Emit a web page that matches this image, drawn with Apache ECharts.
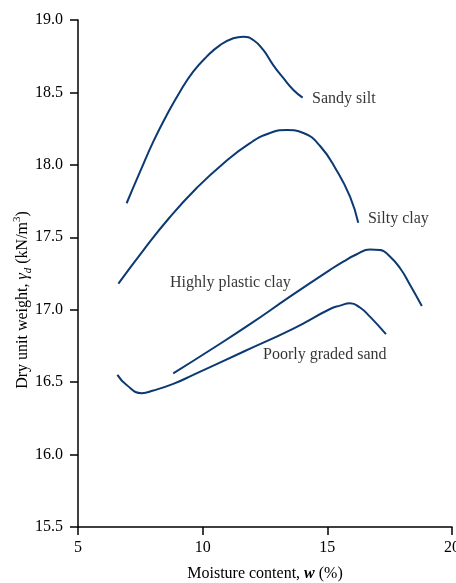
<!DOCTYPE html>
<html>
<head>
<meta charset="utf-8">
<style>html,body{margin:0;padding:0;background:#fff}#c{width:456px;height:583px}</style>
<script src="https://cdn.jsdelivr.net/npm/echarts@6/dist/echarts.min.js"></script>
</head>
<body>
<div id="c"></div>
<script>
// Moisture content (%) vs dry unit weight (kN/m3)
var sandySiltW = [6.95, 7.49, 8.02, 8.56, 9.09, 9.62, 10.16, 10.70, 11.23, 11.63, 12.03, 12.43, 12.83, 13.24, 13.64, 14.01];
var sandySiltG = [17.735, 17.953, 18.160, 18.344, 18.505, 18.643, 18.747, 18.827, 18.874, 18.885, 18.862, 18.793, 18.689, 18.598, 18.517, 18.464];

var siltyClayW = [6.62, 7.62, 8.69, 9.76, 10.83, 11.90, 12.70, 13.37, 14.04, 14.71, 15.38, 15.91, 16.24];
var siltyClayG = [17.18, 17.41, 17.64, 17.84, 18.01, 18.15, 18.22, 18.24, 18.22, 18.13, 17.96, 17.78, 17.60];

var hpClayW = [8.82, 10.29, 11.90, 13.50, 15.11, 15.64, 16.18, 16.71, 17.11, 17.51, 17.92, 18.32, 18.79];
var hpClayG = [16.56, 16.72, 16.90, 17.09, 17.275, 17.332, 17.383, 17.415, 17.413, 17.367, 17.286, 17.171, 17.026];

var pgSandW = [6.58, 6.95, 7.56, 8.02, 8.82, 9.62, 11.63, 13.64, 15.11, 15.51, 15.91, 16.31, 16.71, 17.35];
var pgSandG = [16.55, 16.48, 16.424, 16.442, 16.488, 16.55, 16.71, 16.87, 17.005, 17.028, 17.045, 17.015, 16.952, 16.831];

var seriesNames = ['Sandy silt', 'Silty clay', 'Highly plastic clay', 'Poorly graded sand'];
var xTicks = [5, 10, 15, 20];
var yTicks = [15.5, 16.0, 16.5, 17.0, 17.5, 18.0, 18.5, 19.0];

function pairs(xs, ys) { return xs.map(function (x, i) { return [x, ys[i]]; }); }

var FONT = '"Liberation Serif", "DejaVu Serif", serif';
var LINE = '#0b3a73';
var TXT = '#000';
var chart = echarts.init(document.getElementById('c'), null, {renderer: 'canvas'});

var curves = [pairs(sandySiltW, sandySiltG), pairs(siltyClayW, siltyClayG), pairs(hpClayW, hpClayG), pairs(pgSandW, pgSandG)];
var series = curves.map(function (d, i) {
  return {
    type: 'line', name: seriesNames[i], data: d, smooth: 0.5, showSymbol: false, silent: true,
    lineStyle: {color: LINE, width: 2}, z: 3
  };
});
// text labels placed in data coordinates
var labelAnchors = [[14.39, 18.455], [16.63, 17.627], [8.69, 17.185], [12.42, 16.688]];
series.push({
  type: 'scatter', symbolSize: 0, silent: true, z: 4,
  data: labelAnchors.map(function (p, i) { return {value: p, name: seriesNames[i]}; }),
  label: {show: true, position: 'right', distance: 0, formatter: '{b}',
    fontFamily: FONT, fontSize: 16, color: TXT}
});

chart.setOption({
  backgroundColor: '#fff',
  animation: false,
  grid: {left: 78, right: 4, top: 20, bottom: 56, containLabel: false, outerBoundsMode: 'none'},
  xAxis: {
    type: 'value', min: xTicks[0], max: xTicks[xTicks.length - 1], interval: 5,
    name: '{a|Moisture content, }{w|w}{a| (%)}',
    nameLocation: 'middle', nameGap: 39,
    nameTextStyle: {rich: {
      a: {fontFamily: FONT, fontSize: 16, color: TXT},
      w: {fontFamily: FONT, fontSize: 16, fontStyle: 'italic', fontWeight: 'bold', color: TXT}
    }},
    axisLine: {show: true, onZero: false, lineStyle: {color: '#000', width: 1.5}},
    axisTick: {show: true, inside: false, length: 8, lineStyle: {color: '#000', width: 1.5}},
    axisLabel: {margin: 13, fontFamily: FONT, fontSize: 16, color: TXT},
    splitLine: {show: false}
  },
  yAxis: {
    type: 'value', min: yTicks[0], max: yTicks[yTicks.length - 1], interval: 0.5,
    axisLine: {show: true, onZero: false, lineStyle: {color: '#000', width: 1.5}},
    axisTick: {show: true, inside: false, length: 8, lineStyle: {color: '#000', width: 1.5}},
    axisLabel: {margin: 15, fontFamily: FONT, fontSize: 16, color: TXT,
      formatter: function (v) { return v.toFixed(1); }},
    splitLine: {show: false}
  },
  graphic: [{
    type: 'text', x: 23, y: 300, rotation: Math.PI / 2, silent: true,
    style: {
      text: '{a|Dry unit weight, }{g|γ}{d|d}{a| (kN/m}{s|3}{a|)}',
      align: 'center', verticalAlign: 'middle',
      rich: {
        a: {fontFamily: FONT, fontSize: 16, fill: TXT, lineHeight: 22, verticalAlign: 'middle'},
        g: {fontFamily: FONT, fontSize: 16, fontStyle: 'italic', fill: TXT, lineHeight: 22, verticalAlign: 'middle'},
        d: {fontFamily: FONT, fontSize: 11, fontStyle: 'italic', fill: TXT, lineHeight: 11, verticalAlign: 'bottom'},
        s: {fontFamily: FONT, fontSize: 11, fill: TXT, lineHeight: 11, verticalAlign: 'top'}
      }
    }
  }],
  series: series
});
</script>
</body>
</html>
